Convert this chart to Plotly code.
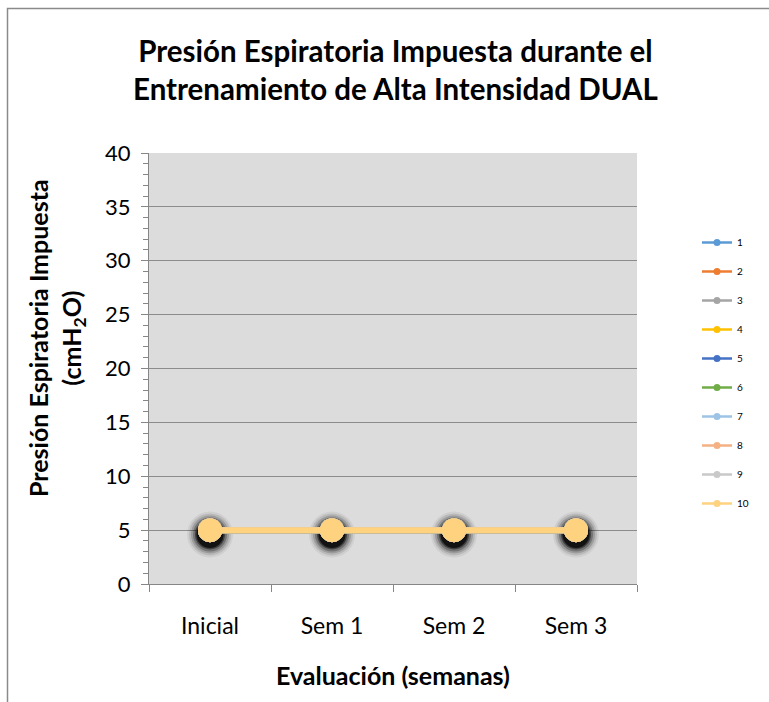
import plotly.graph_objects as go

categories = ["Inicial", "Sem 1", "Sem 2", "Sem 3"]
series_names = ["1", "2", "3", "4", "5", "6", "7", "8", "9", "10"]
series_values = [
    [5, 5, 5, 5],
    [5, 5, 5, 5],
    [5, 5, 5, 5],
    [5, 5, 5, 5],
    [5, 5, 5, 5],
    [5, 5, 5, 5],
    [5, 5, 5, 5],
    [5, 5, 5, 5],
    [5, 5, 5, 5],
    [5, 5, 5, 5],
]
series_colors = ["#5B9BD5", "#ED7D31", "#A5A5A5", "#FFC000", "#4472C4",
                 "#70AD47", "#9DC3E6", "#F4B183", "#C9C9C9", "#FFD280"]

W, H = 769, 702
L, R, T, B = 149, 637, 153, 584
pw, ph = R - L, B - T
FONT = "Lato"

def px_x(p):
    return (p - L) / pw

def px_y(p):
    return (B - p) / ph

fig = go.Figure()

# soft shadow under the markers (drawn once, from the top series values)
shadow_dy = 0.4
top_vals = series_values[-1]
for s, op in [(46, 0.06), (42, 0.1), (38, 0.16), (34, 0.26), (30, 0.45), (27, 0.7)]:
    fig.add_trace(go.Scatter(
        x=categories, y=[v - shadow_dy for v in top_vals], mode="markers",
        marker=dict(size=s, color="black", opacity=op, line=dict(width=0)),
        showlegend=False, hoverinfo="skip"))

for name, vals, col in zip(series_names, series_values, series_colors):
    fig.add_trace(go.Scatter(
        x=categories, y=vals, mode="lines+markers", name=name,
        line=dict(color=col, width=6),
        marker=dict(size=24, color=col, line=dict(width=0)),
        showlegend=False))

for name, col in zip(series_names, series_colors):
    fig.add_trace(go.Scatter(
        x=[None], y=[None], mode="lines+markers", name=name,
        legendgroup=name,
        line=dict(color=col, width=2.5),
        marker=dict(size=7, color=col),
        showlegend=True))

fig.update_layout(
    width=W, height=H,
    margin=dict(l=L, r=W - R, t=T, b=H - B),
    paper_bgcolor="white",
    plot_bgcolor="#DCDCDC",
    font=dict(family=FONT, color="#000000"),
    showlegend=True,
    legend=dict(x=px_x(697), y=px_y(228), xanchor="left", yanchor="top",
                font=dict(size=10, family=FONT, color="#000"),
                tracegroupgap=10, bgcolor="rgba(0,0,0,0)"),
    xaxis=dict(
        type="category", range=[-0.5, 3.5],
        showgrid=False, showline=True, linecolor="#868686", linewidth=1,
        ticks="outside", tickson="boundaries", ticklen=7, tickcolor="#868686",
        tickfont=dict(size=23, family=FONT, color="#000"),
        ticklabelstandoff=21, zeroline=False),
    yaxis=dict(
        range=[0, 40], dtick=5, showgrid=True, gridcolor="#8C8C8C", gridwidth=1,
        showline=True, linecolor="#868686", linewidth=1,
        ticks="outside", ticklen=7, tickcolor="#868686",
        tickfont=dict(size=22, family=FONT, color="#000"),
        ticklabelstandoff=6, zeroline=False,
        minor=dict(dtick=1, ticks="outside", ticklen=5, tickcolor="#868686", showgrid=False)),
)

fig.add_annotation(
    text="<b>Presión Espiratoria Impuesta durante el<br>Entrenamiento de Alta Intensidad DUAL</b>",
    x=px_x(395), y=px_y(70), xref="paper", yref="paper",
    xanchor="center", yanchor="middle", showarrow=False,
    font=dict(size=29.5, family=FONT, color="#000"))

fig.add_annotation(
    text="<b>Presión Espiratoria Impuesta<br>(cmH<sub>2</sub>O)</b>",
    x=px_x(56), y=px_y(338), xref="paper", yref="paper",
    xanchor="center", yanchor="middle", showarrow=False, textangle=-90,
    font=dict(size=25, family=FONT, color="#000"))

fig.add_annotation(
    text="<b>Evaluación (semanas)</b>",
    x=px_x(393), y=px_y(675), xref="paper", yref="paper",
    xanchor="center", yanchor="middle", showarrow=False,
    font=dict(size=25, family=FONT, color="#000"))

fig.add_shape(type="rect", xref="paper", yref="paper",
              x0=px_x(7.5), y0=px_y(760), x1=px_x(820), y1=px_y(8.5),
              line=dict(color="#8A8A8A", width=1.5), fillcolor="rgba(0,0,0,0)",
              layer="below")

fig.write_html("out.html")
